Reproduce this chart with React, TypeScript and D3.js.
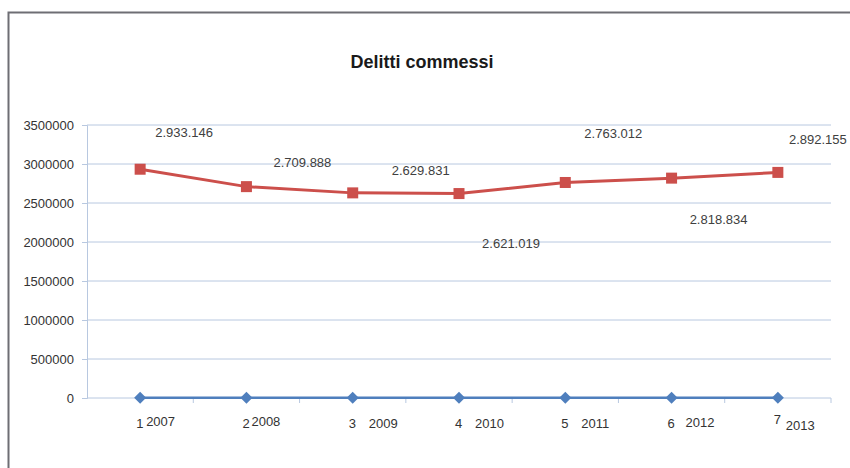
import { useEffect, useRef } from 'react'
import * as d3 from 'd3'

const categories = ['1', '2', '3', '4', '5', '6', '7']
const years = ['2007', '2008', '2009', '2010', '2011', '2012', '2013']
const delitti = [2933146, 2709888, 2629831, 2621019, 2763012, 2818834, 2892155]
const anni = [2007, 2008, 2009, 2010, 2011, 2012, 2013]
const yTicks = [0, 500000, 1000000, 1500000, 2000000, 2500000, 3000000, 3500000]
const valueLabels = ['2.933.146', '2.709.888', '2.629.831', '2.621.019', '2.763.012', '2.818.834', '2.892.155']

// manual label offsets (dx, dy) from each point, as in the source
const labelOffsets: [number, number][] = [
  [44, -32], [56, -20], [68, -18], [52, 54], [48, -44], [47, 46], [40, -28],
]
// year text offsets relative to category number
const yearOffsets: [number, number][] = [
  [10, -2], [9, -2], [20, 0], [20, 0], [20, 0], [18, -1], [12, 6],
]

const FONT = '"Liberation Sans", Arial, sans-serif'
const RED = '#cc4f4b'
const BLUE = '#4f7fbd'
const GRID = '#b8c8e0'

export default function App() {
  const svgRef = useRef<SVGSVGElement>(null)

  useEffect(() => {
    if (!svgRef.current) return
    const width = 850
    const height = 468
    const margin = { top: 125, right: 19, bottom: 70, left: 87 }
    const innerW = width - margin.left - margin.right
    const innerH = height - margin.top - margin.bottom

    const svg = d3.select(svgRef.current)
    svg.selectAll('*').remove()
    svg.attr('width', width).attr('height', height)

    svg.append('rect').attr('width', width).attr('height', height).attr('fill', '#fff')

    // Frame
    svg.append('path')
      .attr('d', `M8.5,${height} L8.5,12.5 L${width},12.5`)
      .attr('fill', 'none')
      .attr('stroke', '#6e6e74')
      .attr('stroke-width', 2)

    // Title
    svg.append('text')
      .attr('x', 422)
      .attr('y', 68)
      .attr('text-anchor', 'middle')
      .attr('font-family', FONT)
      .attr('font-weight', 'bold')
      .attr('font-size', '18px')
      .attr('fill', '#1a1a1a')
      .text('Delitti commessi')

    const g = svg.append('g').attr('transform', `translate(${margin.left},${margin.top})`)

    const x = d3.scaleBand().domain(categories).range([0, innerW])
    const y = d3.scaleLinear().domain([0, 3500000]).range([innerH, 0])
    const cx = (i: number) => (x(categories[i]) ?? 0) + x.bandwidth() / 2

    // Grid lines
    g.append('g')
      .selectAll('line')
      .data(yTicks.slice(1))
      .enter().append('line')
      .attr('x1', 0)
      .attr('x2', innerW)
      .attr('y1', d => y(d))
      .attr('y2', d => y(d))
      .attr('stroke', GRID)
      .attr('stroke-width', 1)

    // Y axis
    g.append('g')
      .call(d3.axisLeft(y).tickValues(yTicks).tickSize(5).tickFormat(d => String(d)).tickPadding(8))
      .call(ax => ax.select('.domain').attr('stroke', GRID))
      .call(ax => ax.selectAll('.tick line').attr('stroke', GRID))
      .call(ax => ax.selectAll('.tick text')
        .attr('fill', '#333')
        .attr('font-size', '13px')
        .attr('font-family', FONT))

    // X axis line + boundary ticks
    const bounds = d3.range(categories.length + 1).map(i => i * x.step())
    g.append('line')
      .attr('x1', 0).attr('x2', innerW)
      .attr('y1', innerH).attr('y2', innerH)
      .attr('stroke', GRID)
    g.append('g')
      .selectAll('line')
      .data(bounds.slice(1))
      .enter().append('line')
      .attr('x1', d => d).attr('x2', d => d)
      .attr('y1', innerH).attr('y2', innerH + 5)
      .attr('stroke', GRID)

    // Category labels
    const cat = g.append('g')
      .attr('font-family', FONT)
      .attr('font-size', '13px')
      .attr('fill', '#333')
    categories.forEach((c, i) => {
      const bx = cx(i) - 4
      const by = innerH + 30 - (i === 6 ? 4 : 0)
      cat.append('text').attr('x', bx).attr('y', by).attr('text-anchor', 'start').text(c)
      cat.append('text')
        .attr('x', bx + yearOffsets[i][0])
        .attr('y', by + yearOffsets[i][1])
        .text(years[i])
    })

    // Blue series (years, ~0)
    const blueLine = d3.line<number>().x((_, i) => cx(i)).y(d => y(d))
    g.append('path')
      .datum(anni)
      .attr('d', blueLine)
      .attr('fill', 'none')
      .attr('stroke', BLUE)
      .attr('stroke-width', 2.5)
    g.selectAll('path.diamond')
      .data(anni)
      .enter().append('path')
      .attr('class', 'diamond')
      .attr('d', 'M0,-6L6,0L0,6L-6,0Z')
      .attr('transform', (d, i) => `translate(${cx(i)},${y(d)})`)
      .attr('fill', BLUE)

    // Red series
    const redLine = d3.line<number>().x((_, i) => cx(i)).y(d => y(d))
    g.append('path')
      .datum(delitti)
      .attr('d', redLine)
      .attr('fill', 'none')
      .attr('stroke', RED)
      .attr('stroke-width', 3)
    g.selectAll('rect.marker')
      .data(delitti)
      .enter().append('rect')
      .attr('class', 'marker')
      .attr('x', (_, i) => cx(i) - 5.5)
      .attr('y', d => y(d) - 5.5)
      .attr('width', 11)
      .attr('height', 11)
      .attr('fill', RED)

    // Value labels
    g.selectAll('text.val')
      .data(delitti)
      .enter().append('text')
      .attr('class', 'val')
      .attr('x', (_, i) => cx(i) + labelOffsets[i][0])
      .attr('y', (d, i) => y(d) + labelOffsets[i][1])
      .attr('text-anchor', 'middle')
      .attr('font-family', FONT)
      .attr('font-size', '13px')
      .attr('fill', '#404040')
      .text((_, i) => valueLabels[i])
  }, [])

  return (
    <div style={{ position: 'fixed', left: 0, top: 0 }}>
      <svg ref={svgRef} style={{ display: 'block' }} />
    </div>
  )
}
